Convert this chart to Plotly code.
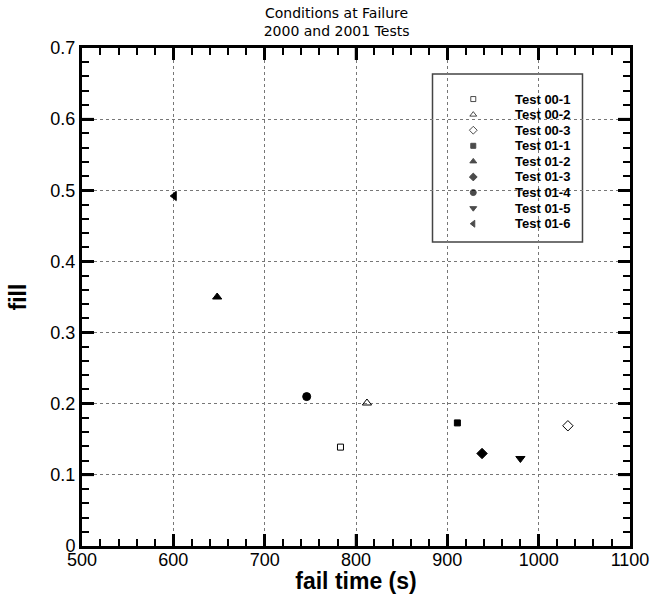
import plotly.graph_objects as go

# Failure conditions per test run
test_names = ["Test 00-1", "Test 00-2", "Test 00-3", "Test 01-1", "Test 01-2",
              "Test 01-3", "Test 01-4", "Test 01-5", "Test 01-6"]
fail_time = [783, 812, 1032, 911, 648, 938, 746, 980, 601]
fill = [0.139, 0.201, 0.169, 0.173, 0.350, 0.130, 0.210, 0.123, 0.492]
symbols = ["square-open", "triangle-up-open", "diamond-open", "square", "triangle-up",
           "diamond", "circle", "triangle-down", "triangle-left"]
sizes = [6, 8, 8, 6, 8, 8, 8, 8, 8]

X_RANGE = [500, 1100]
Y_RANGE = [0, 0.7]
X_MAJOR, X_MINOR = 100, 20
Y_MAJOR, Y_MINOR = 0.1, 0.02
MAJOR_LEN = 12

FONT = "Liberation Sans, Arial, sans-serif"

fig = go.Figure()
for name, x, y, sym, sz in zip(test_names, fail_time, fill, symbols, sizes):
    fig.add_trace(go.Scatter(
        x=[x], y=[y], mode="markers", name=name, showlegend=False,
        marker=dict(symbol=sym, size=sz, color="black",
                    line=dict(color="black", width=1)),
    ))

# Key: symbols drawn on an invisible overlay axis spanning the plot area (0..1)
n = len(test_names)
key_x = 0.714
key_top = 0.8975
key_step = 0.0313
key_rows = [key_top - i * key_step for i in range(n)]
fig.add_trace(go.Scatter(
    x=[key_x] * n, y=key_rows, mode="markers", showlegend=False,
    hoverinfo="skip", xaxis="x2", yaxis="y2",
    marker=dict(symbol=symbols, size=[max(s - 2, 5) for s in sizes],
                color="black", line=dict(color="black", width=1)),
))
for name, yy in zip(test_names, key_rows):
    fig.add_annotation(
        x=0.7856, y=yy, xref="paper", yref="paper", text=name, showarrow=False,
        xanchor="left", yanchor="middle",
        font=dict(family=FONT, size=13, color="black", weight="bold"),
    )
fig.add_shape(
    type="rect", xref="paper", yref="paper",
    x0=0.6396, x1=0.9133, y0=0.6106, y1=0.9477,
    line=dict(color="#444444", width=1.5), fillcolor="white", layer="between",
)

# Long major tick marks on all four sides of the frame
tick_line = dict(color="black", width=2.5)
n_x = int(round((X_RANGE[1] - X_RANGE[0]) / X_MAJOR))
for i in range(1, n_x):
    xv = X_RANGE[0] + i * X_MAJOR
    for anchor, sign in ((0, 1), (1, -1)):
        fig.add_shape(type="line", xref="x", yref="paper", ysizemode="pixel",
                      yanchor=anchor, x0=xv, x1=xv, y0=0, y1=sign * MAJOR_LEN,
                      line=tick_line)
n_y = int(round((Y_RANGE[1] - Y_RANGE[0]) / Y_MAJOR))
for i in range(1, n_y):
    yv = Y_RANGE[0] + i * Y_MAJOR
    for anchor, sign in ((0, 1), (1, -1)):
        fig.add_shape(type="line", xref="paper", yref="y", xsizemode="pixel",
                      xanchor=anchor, y0=yv, y1=yv, x0=0, x1=sign * MAJOR_LEN,
                      line=tick_line)

# Main axes: frame, minor ticks (mirrored) and tick labels
tick_common = dict(
    showline=True, linecolor="black", linewidth=3, mirror="allticks",
    ticks="inside", ticklen=MAJOR_LEN, tickwidth=2.5, tickcolor="black",
    showgrid=False, zeroline=False, automargin=False,
    tickfont=dict(family=FONT, size=18, color="black"),
)
# Overlay axes carrying only the dotted grid
grid_common = dict(
    showgrid=True, gridcolor="#777777", griddash="dot", gridwidth=1,
    showline=False, ticks="", showticklabels=False, zeroline=False,
)

fig.update_layout(
    xaxis=dict(
        range=X_RANGE, dtick=X_MAJOR, tick0=X_RANGE[0],
        minor=dict(ticks="inside", dtick=X_MINOR, ticklen=7, tickwidth=2,
                   tickcolor="black", showgrid=False),
        ticklabelstandoff=-5,
        title=dict(text="fail time (s)", standoff=4,
                   font=dict(family=FONT, size=23, color="black", weight="bold")),
        **tick_common,
    ),
    yaxis=dict(
        range=Y_RANGE, dtick=Y_MAJOR, tick0=Y_RANGE[0], tickformat=".1~f",
        minor=dict(ticks="inside", dtick=Y_MINOR, ticklen=7, tickwidth=2,
                   tickcolor="black", showgrid=False),
        title=dict(text="fill", standoff=18,
                   font=dict(family=FONT, size=23, color="black", weight="bold")),
        **tick_common,
    ),
    xaxis2=dict(range=[0, 1], overlaying="x", visible=False),
    yaxis2=dict(range=[0, 1], overlaying="y", visible=False),
    xaxis3=dict(range=X_RANGE, dtick=X_MAJOR, tick0=X_RANGE[0], overlaying="x",
                **grid_common),
    yaxis3=dict(range=Y_RANGE, dtick=Y_MAJOR, tick0=Y_RANGE[0], overlaying="y",
                **grid_common),
    width=660, height=594,
    margin=dict(l=82, r=30, t=48, b=48),
    paper_bgcolor="white", plot_bgcolor="white",
    title=dict(text="Conditions at Failure<br>2000 and 2001 Tests",
               x=0.51, xanchor="center", y=0.97, yanchor="top",
               font=dict(family="DejaVu Sans, sans-serif", size=14, color="black")),
    showlegend=False,
)
# empty trace so the grid overlay axes are rendered
fig.add_trace(go.Scatter(x=[], y=[], xaxis="x3", yaxis="y3", showlegend=False,
                         hoverinfo="skip"))

fig.write_html("out.html")
